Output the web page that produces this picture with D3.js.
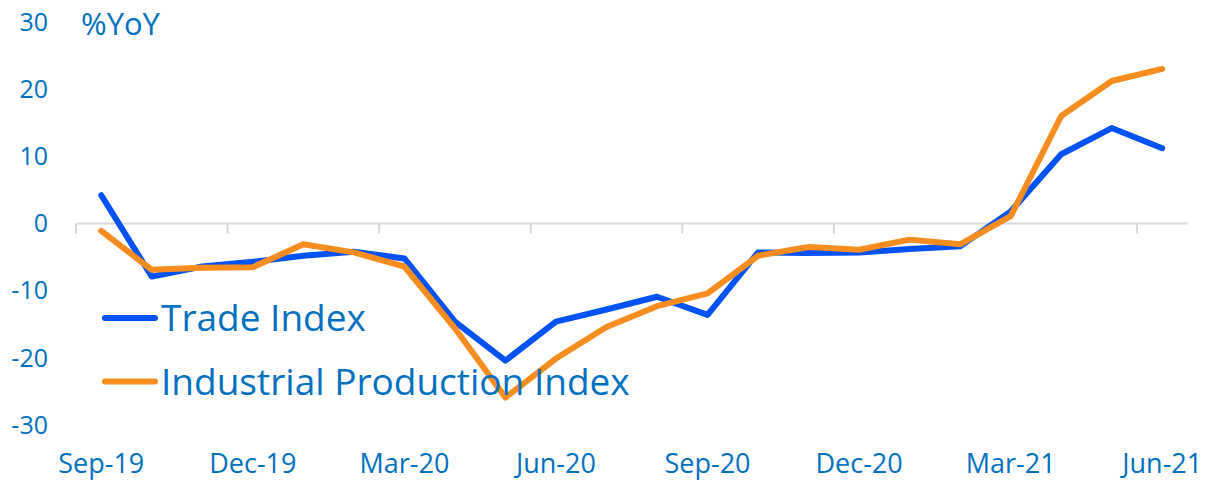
<!DOCTYPE html>
<html>
<head>
<meta charset="utf-8">
<script src="https://cdn.jsdelivr.net/npm/d3@7"></script>
<style>
  body { margin: 0; background: #fff; }
  svg text { font-family: "Open Sans", sans-serif; fill: #0070C0; }
</style>
</head>
<body>
<svg id="chart" width="1206" height="482"></svg>
<script>
// months shown on the x axis (one point per month)
var months = ["Sep-19","Oct-19","Nov-19","Dec-19","Jan-20","Feb-20","Mar-20","Apr-20","May-20","Jun-20","Jul-20","Aug-20",
              "Sep-20","Oct-20","Nov-20","Dec-20","Jan-21","Feb-21","Mar-21","Apr-21","May-21","Jun-21"];
// %YoY values
var tradeIndex = [4.2,-7.9,-6.4,-5.7,-4.8,-4.2,-5.2,-14.6,-20.4,-14.6,-12.8,-10.9,
                  -13.6,-4.3,-4.4,-4.3,-3.8,-3.4,1.8,10.3,14.2,11.2];
var industrialIndex = [-1.1,-6.9,-6.6,-6.5,-3.1,-4.3,-6.4,-15.6,-25.9,-20.1,-15.4,-12.3,
                       -10.4,-4.8,-3.5,-3.9,-2.4,-3.1,1.1,16.0,21.2,23.0];
var yTicks = [30,20,10,0,-10,-20,-30];
var xLabels = ["Sep-19","Dec-19","Mar-20","Jun-20","Sep-20","Dec-20","Mar-21","Jun-21"];

var series = [
  {name: "Trade Index", values: tradeIndex, color: "#0052F5"},
  {name: "Industrial Production Index", values: industrialIndex, color: "#F78D1E"}
];

var svg = d3.select("#chart");

var x = d3.scaleBand().domain(months).range([76, 1187.5]).padding(0);
var y = d3.scaleLinear().domain([-30, 30]).range([425.1, 21.9]);
var cx = function(m) { return x(m) + x.bandwidth() / 2; };

// y labels
svg.selectAll(".ylab").data(yTicks).enter().append("text")
  .attr("class", "ylab")
  .attr("x", 48)
  .attr("y", function(d) { return y(d); })
  .attr("dy", "0.35em")
  .attr("text-anchor", "end")
  .style("font-size", "25px")
  .text(function(d) { return d; });

svg.append("text")
  .attr("x", 81).attr("y", 35)
  .style("font-size", "31px")
  .text("%YoY");

// zero line with tick marks every 3 months
svg.append("line")
  .attr("x1", x.range()[0]).attr("x2", x.range()[1])
  .attr("y1", y(0)).attr("y2", y(0))
  .attr("stroke", "#D9D9D9").attr("stroke-width", 2);

svg.selectAll(".tick").data(months.filter(function(d, i) { return i % 3 == 0; }))
  .enter().append("line")
  .attr("x1", function(d) { return x(d); }).attr("x2", function(d) { return x(d); })
  .attr("y1", y(0)).attr("y2", y(0) + 10)
  .attr("stroke", "#D9D9D9").attr("stroke-width", 2);

// x labels
svg.selectAll(".xlab").data(xLabels).enter().append("text")
  .attr("class", "xlab")
  .attr("x", function(d) { return cx(d); })
  .attr("y", 473)
  .attr("text-anchor", "middle")
  .style("font-size", "27px")
  .text(function(d) { return d; });

// lines
var line = d3.line()
  .x(function(d, i) { return cx(months[i]); })
  .y(function(d) { return y(d); });

svg.selectAll(".series").data(series).enter().append("path")
  .attr("class", "series")
  .attr("d", function(s) { return line(s.values); })
  .attr("fill", "none")
  .attr("stroke", function(s) { return s.color; })
  .attr("stroke-width", 6)
  .attr("stroke-linecap", "round")
  .attr("stroke-linejoin", "round");

// legend
var leg = svg.selectAll(".leg").data(series).enter().append("g")
  .attr("class", "leg")
  .attr("transform", function(d, i) { return "translate(0," + (318 + i * 63.5) + ")"; });
leg.append("line")
  .attr("x1", 105).attr("x2", 155)
  .attr("stroke", function(d) { return d.color; })
  .attr("stroke-width", 6)
  .attr("stroke-linecap", "round");
leg.append("text")
  .attr("x", 161).attr("y", 13)
  .style("font-size", "37px")
  .text(function(d) { return d.name; });
</script>
</body>
</html>
